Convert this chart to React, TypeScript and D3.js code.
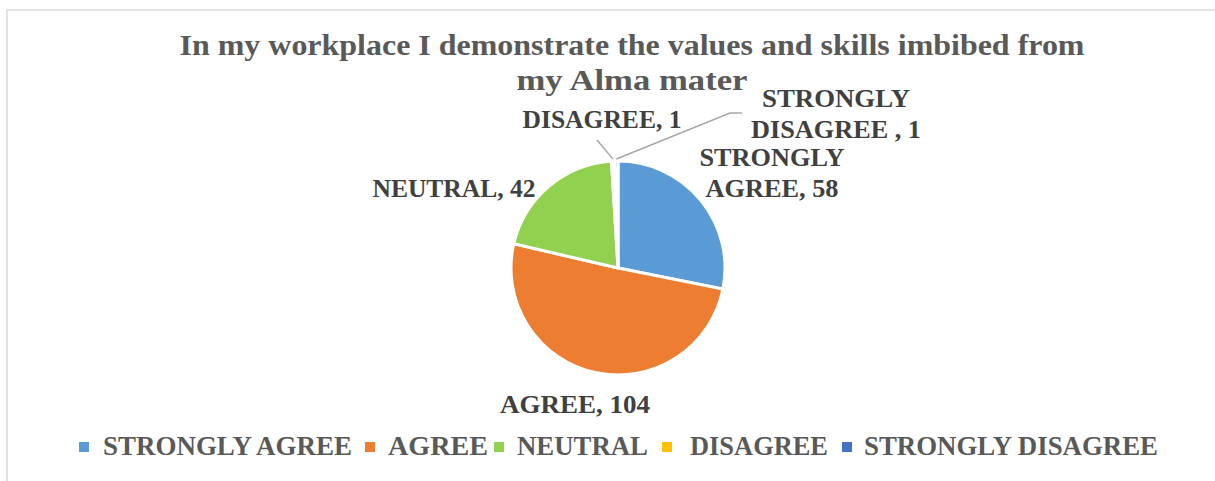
import * as React from 'react';
import {arc, pie, PieArcDatum} from 'd3';

const categories = ['STRONGLY AGREE', 'AGREE', 'NEUTRAL', 'DISAGREE', 'STRONGLY DISAGREE'];
const values = [58, 104, 42, 1, 1];
const colors = ['#5B9BD5', '#ED7D31', '#92D050', '#FFC000', '#4472C4'];
const titleLines = ['In my workplace I demonstrate the values and skills imbibed from', 'my Alma mater'];

const width = 1215;
const height = 481;
const cx = 618;
const cy = 268;
const radius = 107;
const font = '"Times New Roman", "Liberation Serif", Tinos, serif';

// data label boxes: text lines, centre x, first baseline, measured widths
const labelLines = [
    ['STRONGLY', 'AGREE, 58'],
    ['AGREE, 104'],
    ['NEUTRAL, 42'],
    ['DISAGREE, 1'],
    ['STRONGLY', 'DISAGREE , 1'],
];
const labelPos = [
    {x: 772, y: 166, w: [145, 133]},
    {x: 575, y: 413, w: [150]},
    {x: 454, y: 197, w: [163]},
    {x: 602, y: 128, w: [159]},
    {x: 836, y: 107, w: [148, 170]},
];

// legend: square x, text start, text end (measured)
const legendSquare = [79, 365, 494, 662, 842];
const legendTextStart = [103, 388, 517, 690, 864];
const legendTextEnd = [352, 488, 648, 828, 1158];
const titleW = [905, 231];

const pieGen = pie<number>().sort(null).value(d => d);
const arcGen = arc<PieArcDatum<number>>().innerRadius(0).outerRadius(radius);

export default function App() {
    const arcs = pieGen(values);
    const edge = (a: PieArcDatum<number>, r: number) => {
        const m = (a.startAngle + a.endAngle) / 2;
        return [cx + Math.sin(m) * r, cy - Math.cos(m) * r];
    };
    const dEdge = edge(arcs[3], radius + 2);
    const sdEdge = edge(arcs[4], radius + 2);
    return (
        <div style={{position: 'fixed', left: 0, top: 0}}>
            <svg width={width} height={height} style={{display: 'block', background: '#fff'}}>
                <rect x={7} y={10} width={width + 10} height={height + 10} fill="#fff" stroke="#d9d9d9" strokeWidth={1.5}/>
                {titleLines.map((t, i) => (
                    <text key={i} x={632} y={55 + i * 35} textAnchor="middle" fontFamily={font}
                          fontWeight="bold" fontSize={30} fill="#595959"
                          textLength={titleW[i]} lengthAdjust="spacingAndGlyphs">{t}</text>
                ))}
                <g transform={`translate(${cx},${cy})`}>
                    {arcs.map((a, i) => (
                        <path key={i} d={arcGen(a) || ''} fill={colors[i]} stroke="#fff" strokeWidth={3}/>
                    ))}
                </g>
                <polyline points={`${dEdge[0]},${dEdge[1]} 597,140`} fill="none" stroke="#a6a6a6" strokeWidth={1.5}/>
                <polyline points={`${sdEdge[0]},${sdEdge[1]} 730,113 742,113`} fill="none" stroke="#a6a6a6" strokeWidth={1.5}/>
                {labelLines.map((lines, i) => lines.map((l, j) => (
                    <text key={`${i}-${j}`} x={labelPos[i].x} y={labelPos[i].y + j * 31} textAnchor="middle"
                          fontFamily={font} fontWeight="bold" fontSize={26} fill="#404040"
                          textLength={labelPos[i].w[j]} lengthAdjust="spacingAndGlyphs">{l}</text>
                )))}
                {categories.map((c, i) => (
                    <g key={c}>
                        <rect x={legendSquare[i]} y={442} width={10} height={10} fill={colors[i]}/>
                        <text x={legendTextStart[i]} y={455} fontFamily={font} fontWeight="bold"
                              fontSize={27} fill="#595959"
                              textLength={legendTextEnd[i] - legendTextStart[i]}
                              lengthAdjust="spacingAndGlyphs">{c}</text>
                    </g>
                ))}
            </svg>
        </div>
    );
}
